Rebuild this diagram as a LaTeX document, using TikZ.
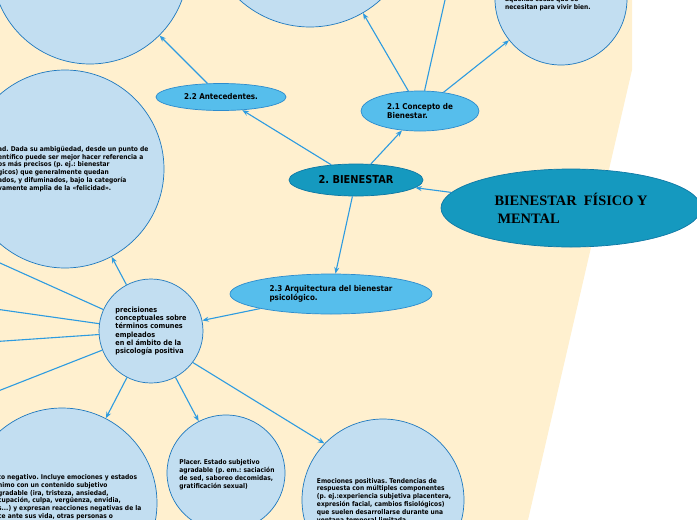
\documentclass[tikz,border=0pt]{standalone}
\usepackage{fontspec}
\usepackage{xcolor}
\usepackage{tikz}
\usetikzlibrary{shapes,arrows.meta,positioning}

\newfontfamily\mapfont[FakeStretch=0.9]{DejaVu Sans}
\newfontfamily\titlefont{Liberation Serif}
\frenchspacing
\definecolor{paper}{RGB}{255,240,207}
\definecolor{bubblefill}{RGB}{194,222,241}
\definecolor{bubbleline}{RGB}{30,120,190}
\definecolor{subfill}{RGB}{86,190,236}
\definecolor{subline}{RGB}{45,140,205}
\definecolor{mainfill}{RGB}{21,153,191}
\definecolor{mainline}{RGB}{14,120,165}
\definecolor{linkblue}{RGB}{45,155,224}

\begin{document}
\begin{tikzpicture}[
    x=1pt, y=-1pt,
    bubble/.style={ellipse, draw=bubbleline, fill=bubblefill, line width=0.7pt, inner sep=0pt},
    sub/.style={ellipse, draw=subline, fill=subfill, line width=0.7pt, inner sep=0pt, align=left, font=\mapfont\bfseries\fontsize{8}{9}\selectfont},
    main/.style={ellipse, draw=mainline, fill=mainfill, line width=0.7pt, inner sep=0pt},
    note/.style={inner sep=0pt, align=left, font=\mapfont\bfseries\fontsize{6.6}{7.9}\selectfont},
    arrow/.style={->, >={Stealth[length=6.5pt,width=5pt]}, line width=1.1pt, linkblue}
]
    \useasboundingbox (0,0) rectangle (697,520);
    \fill[paper] (0,0) -- (632,0) -- (632,70) -- (528,520) -- (0,520) -- cycle;

    % Top row, cut off by the page
    \node[bubble, minimum size=196] (antes) at (90,-34) {};
    \node[bubble, minimum size=210] (origen) at (310,-78) {};
    \node[bubble, minimum size=132] (vivir) at (561,-1) {};
    \node[note, anchor=south west] (vivirT) at (505,11) {aquellas cosas que se\\necesitan para vivir bien.};

    % Main topic and sections
    \node[main, minimum width=260, minimum height=78, align=left, font=\titlefont\bfseries\fontsize{14.4}{18}\selectfont] (fisico) at (571,208) {BIENESTAR\ \ FÍSICO Y\\\hspace{3pt}MENTAL};
    \node[main, minimum width=134, minimum height=32, font=\mapfont\bfseries\fontsize{10.9}{12}\selectfont] (bienestar) at (356,180) {2. BIENESTAR};
    \node[sub, minimum width=130, minimum height=27] (antecedentes) at (221,97) {2.2 Antecedentes.};
    \node[sub, minimum width=118, minimum height=40] (concepto) at (420,111) {2.1 Concepto de\\Bienestar.};
    \node[sub, minimum width=202, minimum height=40] (arquitectura) at (331,294) {2.3 Arquitectura del bienestar\\psicológico.};

    % Precisiones and its children
    \node[bubble, minimum size=104, align=left, font=\mapfont\bfseries\fontsize{7.2}{8.3}\selectfont] (precisiones) at (151,331) {precisiones\\conceptuales sobre\\términos comunes\\empleados\\en el ámbito de la\\psicología positiva};
    \node[bubble, minimum size=198] (felicidad) at (65,169) {};
    \node[note, anchor=west] (felicidadT) at (-2,169) {ad. Dada su ambigüedad, desde un punto de\\entífico puede ser mejor hacer referencia a\\os más precisos (p. ej.: bienestar\\gicos) que generalmente quedan\\ados, y difuminados, bajo la categoría\\vamente amplia de la «felicidad».};
    \node[bubble, minimum size=190] (negativo) at (62,503) {};
    \node[note, anchor=north west] (negativoT) at (-2,474) {to negativo. Incluye emociones y estados\\nimo con un contenido subjetivo\\gradable (ira, tristeza, ansiedad,\\cupación, culpa, vergüenza, envidia,\\s...) y expresan reacciones negativas de la\\ce ante sus vida, otras personas o};
    \node[bubble, minimum width=118, minimum height=116] (placer) at (226,473) {};
    \node[note] (placerT) at (227,475) {Placer. Estado subjetivo\\agradable (p. em.: saciación\\de sed, saboreo decomidas,\\gratificación sexual)};
    \node[bubble, minimum size=162] (positivas) at (383,500) {};
    \node[note] (positivasT) at (384,501) {Emociones positivas. Tendencias de\\respuesta con múltiples componentes\\(p. ej.:experiencia subjetiva placentera,\\expresión facial, cambios fisiológicos)\\que suelen desarrollarse durante una\\ventana temporal limitada.};

    % Ends of links that leave the page
    \coordinate (conceptoB) at (454,-40);
    \coordinate (lado1) at (-40,245);
    \coordinate (lado2) at (-40,304);
    \coordinate (lado3) at (-40,344);
    \coordinate (lado4) at (-40,406);

    % Links
    \draw[arrow] (fisico) -- (bienestar);
    \draw[arrow] (bienestar) -- (antecedentes);
    \draw[arrow] (bienestar) -- (concepto);
    \draw[arrow] (bienestar) -- (arquitectura);
    \draw[arrow] (antecedentes) -- (antes);
    \draw[arrow] (concepto) -- (origen);
    \draw[arrow] (concepto) -- (conceptoB);
    \draw[arrow] (concepto) -- (vivir);
    \draw[arrow] (arquitectura) -- (precisiones);
    \draw[arrow] (precisiones) -- (felicidad);
    \draw[arrow] (precisiones) -- (negativo);
    \draw[arrow] (precisiones) -- (placer);
    \draw[arrow] (precisiones.-37) -- (positivas.136);
    \foreach \k in {1,...,4}
        \draw[arrow] (precisiones) -- (lado\k);
\end{tikzpicture}
\end{document}
